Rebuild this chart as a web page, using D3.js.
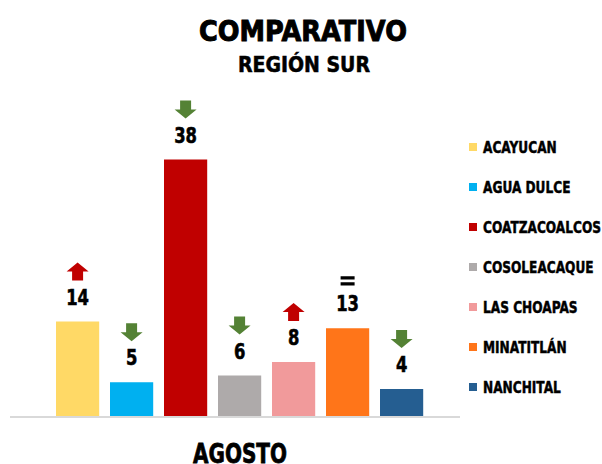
<!DOCTYPE html>
<html>
<head>
<meta charset="utf-8">
<script src="https://cdn.jsdelivr.net/npm/d3@7"></script>
<style>
  body { margin: 0; background: #fff; }
  text { font-family: "DejaVu Sans", sans-serif; font-weight: bold; fill: #000; }
</style>
</head>
<body>
<div id="chart"></div>
<script>
// Data
var cities = ["ACAYUCAN", "AGUA DULCE", "COATZACOALCOS", "COSOLEACAQUE", "LAS CHOAPAS", "MINATITLÁN", "NANCHITAL"];
var values = [14, 5, 38, 6, 8, 13, 4];
var trend = ["up", "down", "down", "down", "up", "eq", "down"];
var colors = ["#FFD966", "#00B0F0", "#C00000", "#AEAAAA", "#F19A9B", "#FF7519", "#255E91"];
var month = "AGOSTO";

var svg = d3.select("#chart")
    .append("svg")
    .attr("width", 602)
    .attr("height", 464);

// Scales
var x = d3.scaleBand()
    .domain(cities)
    .range([50.6, 428.6])
    .paddingInner(0.2)
    .paddingOuter(0.1);

var y = d3.scaleLinear()
    .domain([0, 40])
    .range([416, 146]);

var color = d3.scaleOrdinal().domain(cities).range(colors);

// Titles
svg.append("text")
    .attr("x", 303).attr("y", 41)
    .attr("text-anchor", "middle")
    .attr("font-size", "29px")
    .attr("stroke", "#000").attr("stroke-width", 1)
    .attr("textLength", 208).attr("lengthAdjust", "spacingAndGlyphs")
    .text("COMPARATIVO");

svg.append("text")
    .attr("x", 304).attr("y", 72)
    .attr("text-anchor", "middle")
    .attr("font-size", "22px")
    .attr("stroke", "#000").attr("stroke-width", 0.6)
    .attr("textLength", 132).attr("lengthAdjust", "spacingAndGlyphs")
    .text("REGIÓN SUR");

// Baseline
svg.append("line")
    .attr("x1", 10).attr("x2", 460)
    .attr("y1", y(0) + 1).attr("y2", y(0) + 1)
    .attr("stroke", "#D9D9D9")
    .attr("stroke-width", 2);

// Bars
svg.append("g")
    .selectAll("rect")
    .data(values)
    .enter()
    .append("rect")
    .attr("x", function (d, i) { return x(cities[i]); })
    .attr("y", function (d) { return y(d); })
    .attr("width", x.bandwidth())
    .attr("height", function (d) { return y(0) - y(d); })
    .attr("fill", function (d, i) { return color(cities[i]); });

// Value labels (condensed by a horizontal scale)
svg.append("g")
    .selectAll("text")
    .data(values)
    .enter()
    .append("text")
    .attr("transform", function (d, i) {
        return "translate(" + (x(cities[i]) + x.bandwidth() / 2) + "," + (y(d) - 17) + ") scale(0.78,1)";
    })
    .attr("text-anchor", "middle")
    .attr("font-size", "21px")
    .attr("stroke", "#000").attr("stroke-width", 0.6)
    .text(function (d) { return d; });

// Trend marks
var aw = 22, ah = 18;
function arrowPath(dir) {
    // (0,0) = bottom centre
    if (dir === "up") {
        return "M0," + (-ah) + "L" + (aw / 2) + "," + (-ah / 2) + "L" + (aw / 4) + "," + (-ah / 2) +
            "L" + (aw / 4) + ",0L" + (-aw / 4) + ",0L" + (-aw / 4) + "," + (-ah / 2) + "L" + (-aw / 2) + "," + (-ah / 2) + "Z";
    }
    if (dir === "down") {
        return "M0,0L" + (aw / 2) + "," + (-ah / 2) + "L" + (aw / 4) + "," + (-ah / 2) +
            "L" + (aw / 4) + "," + (-ah) + "L" + (-aw / 4) + "," + (-ah) + "L" + (-aw / 4) + "," + (-ah / 2) + "L" + (-aw / 2) + "," + (-ah / 2) + "Z";
    }
    // equal sign: two bars
    return "M-7,-10h14v3.2h-14Z M-7,-4h14v3.2h-14Z";
}

svg.append("g")
    .selectAll("path")
    .data(values)
    .enter()
    .append("path")
    .attr("transform", function (d, i) {
        var off = trend[i] === "eq" ? 42 : 41;
        return "translate(" + (x(cities[i]) + x.bandwidth() / 2) + "," + (y(d) - off) + ")";
    })
    .attr("d", function (d, i) { return arrowPath(trend[i]); })
    .attr("fill", function (d, i) {
        return trend[i] === "up" ? "#C00000" : trend[i] === "down" ? "#548235" : "#000";
    });

// Legend
var legend = svg.append("g")
    .selectAll("g")
    .data(cities)
    .enter()
    .append("g")
    .attr("transform", function (d, i) { return "translate(469," + (147 + i * 40) + ")"; });

legend.append("rect")
    .attr("x", 0).attr("y", -4)
    .attr("width", 8).attr("height", 8)
    .attr("fill", function (d) { return color(d); });

legend.append("text")
    .attr("transform", "translate(14,6) scale(0.76,1)")
    .attr("font-size", "16px")
    .attr("stroke", "#000").attr("stroke-width", 0.5)
    .text(function (d) { return d; });

// Category label
svg.append("text")
    .attr("x", 240).attr("y", 463)
    .attr("text-anchor", "middle")
    .attr("font-size", "27px")
    .attr("stroke", "#000").attr("stroke-width", 0.8)
    .attr("textLength", 94).attr("lengthAdjust", "spacingAndGlyphs")
    .text(month);
</script>
</body>
</html>
